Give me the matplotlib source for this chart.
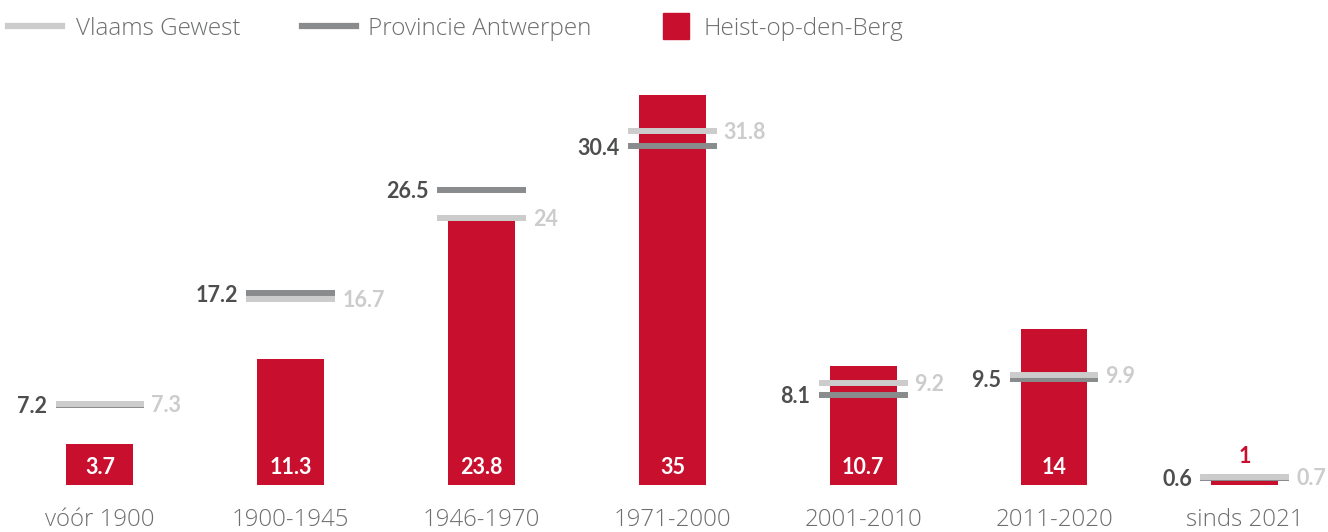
import numpy as np
import matplotlib.pyplot as plt
from matplotlib.lines import Line2D
from matplotlib.patches import Rectangle

# bouwperiode van woningen (%)
periodes = ["vóór 1900", "1900-1945", "1946-1970", "1971-2000", "2001-2010", "2011-2020", "sinds 2021"]
heist = [3.7, 11.3, 23.8, 35, 10.7, 14, 1]
provincie = [7.2, 17.2, 26.5, 30.4, 8.1, 9.5, 0.6]
vlaams = [7.3, 16.7, 24, 31.8, 9.2, 9.9, 0.7]

rood = "#C8102E"
lichtgrijs = "#CBCCCB"
donkergrijs = "#898B8D"
tekst_donker = "#4D4E50"
tekst_tick = "#6D6E70"

plt.rcParams['font.family'] = ['Lato', 'DejaVu Sans']
dun = ['Open Sans', 'DejaVu Sans']

fig = plt.figure(figsize=(13.28, 5.32), dpi=100)
ax = fig.add_axes([0, 0, 1, 1])
ax.set_xlim(-0.524, 6.436)
ax.set_ylim(-4.22, 43.54)
ax.axis("off")

x = np.arange(len(periodes))
bw = 0.351
lw_half = 0.233

ax.bar(x, heist, width=bw, color=rood, zorder=1)
ax.hlines(provincie, x - lw_half, x + lw_half, color=donkergrijs, lw=4.3, zorder=2)
ax.hlines(vlaams, x - lw_half, x + lw_half, color=lichtgrijs, lw=4.3, zorder=3)

def fmt(v):
    return f"{v:g}"

for i in range(len(periodes)):
    # provincie links, vlaams rechts van de lijnen
    ax.annotate(fmt(provincie[i]), (x[i] - lw_half, provincie[i]), xytext=(-6, -1.2),
                textcoords="offset points", ha="right", va="center",
                fontsize=15.5, fontweight="bold", color=tekst_donker)
    ax.annotate(fmt(vlaams[i]), (x[i] + lw_half, vlaams[i]), xytext=(5, -1.2),
                textcoords="offset points", ha="left", va="center",
                fontsize=15.5, fontweight="bold", color=lichtgrijs)
    if heist[i] >= 3:
        ax.text(x[i], 1.55, fmt(heist[i]), ha="center", va="center",
                fontsize=15.5, fontweight="bold", color="white", zorder=4)
    else:
        ax.annotate(fmt(heist[i]), (x[i], heist[i]), xytext=(0, 5),
                    textcoords="offset points", ha="center", va="bottom",
                    fontsize=15.5, fontweight="bold", color=rood)
    ax.text(x[i], -3.1, periodes[i], ha="center", va="center", family=dun,
            fontsize=17.3, fontweight="light", color=tekst_tick)

# legende
W, H = 1328, 532
ly = 1 - 29 / H
lijn_y = 1 - 26 / H
fig.add_artist(Line2D([8 / W, 62 / W], [lijn_y, lijn_y], color=lichtgrijs, lw=4.5))
fig.text(76 / W, ly, "Vlaams Gewest", ha="left", va="center", family=dun,
         fontsize=17.5, fontweight="light", color=tekst_tick)
fig.add_artist(Line2D([302 / W, 356 / W], [lijn_y, lijn_y], color=donkergrijs, lw=4.5))
fig.text(368 / W, ly, "Provincie Antwerpen", ha="left", va="center", family=dun,
         fontsize=17.5, fontweight="light", color=tekst_tick)
fig.add_artist(Rectangle((663 / W, 1 - 39 / H), 26 / W, 26 / H, color=rood,
                         transform=fig.transFigure))
fig.text(704 / W, ly, "Heist-op-den-Berg", ha="left", va="center", family=dun,
         fontsize=17.5, fontweight="light", color=tekst_tick)

fig.savefig("out.png", dpi=100)
